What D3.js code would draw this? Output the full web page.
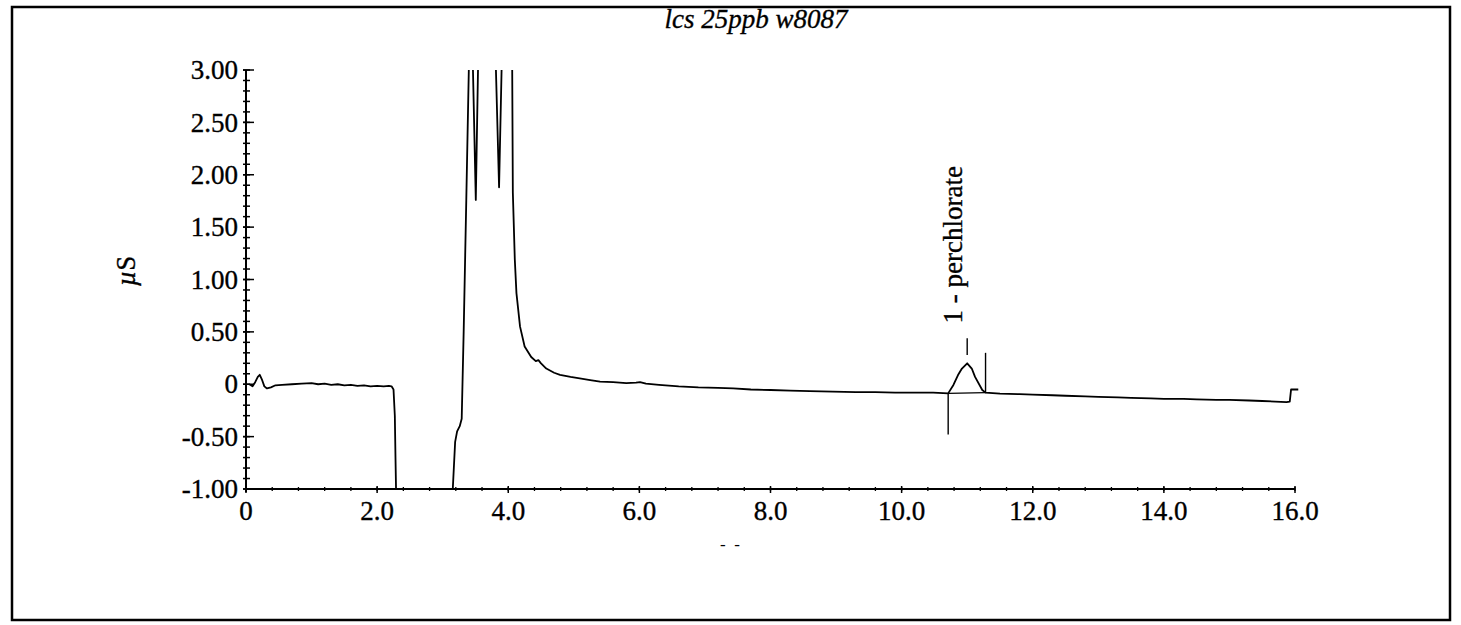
<!DOCTYPE html>
<html>
<head>
<meta charset="utf-8">
<script src="https://cdn.jsdelivr.net/npm/d3@7"></script>
<style>
html,body{margin:0;padding:0;background:#fff;}
svg{display:block;}
text{font-family:"Liberation Serif","Times New Roman",serif;fill:#000;stroke:#000;stroke-width:0.35px;}
</style>
</head>
<body>
<svg id="chart" width="1461" height="625"></svg>
<script>
// ---- data (time in min, signal in µS) ----
const title = "lcs 25ppb w8087";
const yLabel = "µS";
const xTickValues = [0, 2, 4, 6, 8, 10, 12, 14, 16];
const xTickLabels = ["0", "2.0", "4.0", "6.0", "8.0", "10.0", "12.0", "14.0", "16.0"];
const yTickValues = [3, 2.5, 2, 1.5, 1, 0.5, 0, -0.5, -1];
const yTickLabels = ["3.00", "2.50", "2.00", "1.50", "1.00", "0.50", "0", "-0.50", "-1.00"];

const times = [
  0.05, 0.10, 0.14, 0.18, 0.21, 0.24, 0.28, 0.32, 0.38, 0.45, 0.55, 0.70, 0.85, 1.00, 1.10, 1.20,
  1.30, 1.40, 1.50, 1.60, 1.70, 1.80, 1.90, 2.00, 2.10, 2.18, 2.22, 2.25, 2.27, 2.28, 2.29,
  3.15, 3.17, 3.19, 3.22, 3.26, 3.29, 3.32, 3.36, 3.40, 3.43, 3.46, 3.505, 3.54, 3.65, 3.80,
  3.81, 3.86, 3.90, 3.98, 4.06, 4.07, 4.10, 4.125, 4.18, 4.25, 4.35, 4.42, 4.46, 4.50, 4.58,
  4.70, 4.79, 4.95, 5.09, 5.25, 5.40, 5.60, 5.80, 5.95, 6.01, 6.10, 6.30, 6.60, 6.90, 7.20,
  7.43, 7.70, 8.00, 8.30, 8.60, 8.95, 9.30, 9.60, 9.90, 10.20, 10.48, 10.71, 10.79, 10.86,
  10.92, 11.00, 11.07, 11.12, 11.23, 11.28, 11.50, 11.80, 12.00, 12.30, 12.50, 12.80, 13.00,
  13.30, 13.50, 13.80, 14.00, 14.30, 14.50, 14.80, 15.00, 15.30, 15.50, 15.70, 15.87, 15.92,
  15.94, 16.05
];
const signal = [
  0.00, -0.02, 0.02, 0.07, 0.09, 0.05, -0.02, -0.04, -0.03, -0.01, -0.005, 0.00, 0.005, 0.01, 0.00, 0.005,
  -0.005, 0.00, -0.01, -0.005, -0.015, -0.01, -0.02, -0.015, -0.02, -0.015, -0.02, -0.05, -0.30, -0.70, -1.05,
  -1.05, -0.80, -0.55, -0.45, -0.40, -0.33, 0.50, 1.76, 3.05, 3.30, 3.05, 1.76, 3.05, 3.30, 3.30,
  3.05, 1.88, 3.05, 3.30, 3.05, 1.83, 1.19, 0.87, 0.55, 0.36, 0.26, 0.22, 0.23, 0.20, 0.15,
  0.11, 0.09, 0.07, 0.057, 0.04, 0.025, 0.02, 0.01, 0.015, 0.02, 0.005, -0.005, -0.02, -0.03, -0.035,
  -0.04, -0.05, -0.055, -0.06, -0.065, -0.07, -0.075, -0.075, -0.08, -0.08, -0.08, -0.087, -0.007, 0.088,
  0.15, 0.20, 0.15, 0.07, -0.055, -0.08, -0.09, -0.095, -0.10, -0.105, -0.11, -0.115, -0.12,
  -0.125, -0.13, -0.135, -0.14, -0.14, -0.145, -0.15, -0.15, -0.155, -0.16, -0.165, -0.17, -0.165,
  -0.05, -0.05
];

// peak integration annotation
const peakName = "1 - perchlorate";
const peakStart = [10.71, -0.087];
const peakEnd = [11.28, -0.08];
const peakApex = 11.0;
const startMarkerEnd = -0.48;
const endMarkerEnd = 0.30;
const labelTickRange = [0.28, 0.44];
const labelStart = 0.58;
const stray = ["-  -"];

// ---- layout ----
const svg = d3.select("#chart");
const x = d3.scaleLinear().domain([0, 16]).range([246, 1295]);
const y = d3.scaleLinear().domain([-1, 3]).range([489, 70]);

// frame
svg.append("rect").attr("x", 12).attr("y", 7).attr("width", 1438).attr("height", 613)
  .attr("fill", "none").attr("stroke", "#000").attr("stroke-width", 2.5);

// title
svg.append("text").attr("x", 756).attr("y", 28).attr("text-anchor", "middle")
  .style("font-style", "italic").style("font-size", "27px").text(title);

// y axis label
const yl = svg.append("text").attr("transform", "translate(135,271) rotate(-90)")
  .attr("text-anchor", "middle").style("font-size", "27px");
yl.append("tspan").style("font-style", "italic").text(yLabel.slice(0, 1));
yl.append("tspan").text(yLabel.slice(1));

// clip for trace
svg.append("clipPath").attr("id", "plotclip").append("rect")
  .attr("x", x(0)).attr("y", y(3)).attr("width", x(16.2) - x(0)).attr("height", y(-1) - y(3));

// y axis
const yAxis = svg.append("g");
yAxis.append("line").attr("x1", x(0)).attr("x2", x(0)).attr("y1", y(3)).attr("y2", y(-1) + 3)
  .attr("stroke", "#000").attr("stroke-width", 2);
const yMinor = d3.range(-10, 31).map(d => d / 10);
yAxis.selectAll(".ymin").data(yMinor).enter().append("line")
  .attr("x1", x(0) - 3).attr("x2", x(0) + 4)
  .attr("y1", d => y(d)).attr("y2", d => y(d))
  .attr("stroke", "#000").attr("stroke-width", 1.5);
yAxis.selectAll(".ymaj").data(yTickValues).enter().append("line")
  .attr("x1", x(0) - 3).attr("x2", x(0) + 8)
  .attr("y1", d => y(d)).attr("y2", d => y(d))
  .attr("stroke", "#000").attr("stroke-width", 1.5);
yAxis.selectAll(".ylab").data(yTickValues).enter().append("text")
  .attr("x", x(0) - 8).attr("y", d => y(d)).attr("dy", "0.34em")
  .attr("text-anchor", "end").style("font-size", "27px")
  .text((d, i) => yTickLabels[i]);

// x axis
const xAxis = svg.append("g");
xAxis.append("line").attr("x1", x(0)).attr("x2", x(16)).attr("y1", y(-1)).attr("y2", y(-1))
  .attr("stroke", "#000").attr("stroke-width", 2);
const xMinor = d3.range(0, 41).map(d => d * 0.4);
xAxis.selectAll(".xmin").data(xMinor).enter().append("line")
  .attr("x1", d => x(d)).attr("x2", d => x(d))
  .attr("y1", y(-1) - 2).attr("y2", y(-1) + 2)
  .attr("stroke", "#000").attr("stroke-width", 1.3);
xAxis.selectAll(".xmaj").data(xTickValues).enter().append("line")
  .attr("x1", d => x(d)).attr("x2", d => x(d))
  .attr("y1", y(-1) - 3).attr("y2", y(-1) + 4)
  .attr("stroke", "#000").attr("stroke-width", 1.5);
xAxis.selectAll(".xlab").data(xTickValues).enter().append("text")
  .attr("x", d => x(d)).attr("y", 520)
  .attr("text-anchor", "middle").style("font-size", "27px")
  .text((d, i) => xTickLabels[i]);

svg.append("text").attr("x", 730).attr("y", 550).attr("text-anchor", "middle")
  .style("font-size", "17px").style("stroke-width", "0").attr("fill", "#444")
  .attr("xml:space", "preserve").text(stray[0]);

// trace
const pts = times.map((t, i) => [t, signal[i]]);
const line = d3.line().x(d => x(d[0])).y(d => y(d[1]));
svg.append("path").datum(pts).attr("clip-path", "url(#plotclip)")
  .attr("d", line).attr("fill", "none").attr("stroke", "#000").attr("stroke-width", 1.8)
  .attr("stroke-linejoin", "round");

// peak annotation
const ann = svg.append("g").attr("stroke", "#000").attr("stroke-width", 1.4);
ann.append("line").attr("x1", x(peakStart[0])).attr("y1", y(peakStart[1]))
  .attr("x2", x(peakEnd[0])).attr("y2", y(peakEnd[1]));
ann.append("line").attr("x1", x(peakStart[0])).attr("x2", x(peakStart[0]))
  .attr("y1", y(peakStart[1])).attr("y2", y(startMarkerEnd));
ann.append("line").attr("x1", x(peakEnd[0])).attr("x2", x(peakEnd[0]))
  .attr("y1", y(peakEnd[1])).attr("y2", y(endMarkerEnd));
ann.append("line").attr("x1", x(peakApex)).attr("x2", x(peakApex))
  .attr("y1", y(labelTickRange[0])).attr("y2", y(labelTickRange[1]));
svg.append("text")
  .attr("transform", `translate(${x(peakApex) - 5},${y(labelStart)}) rotate(-90)`)
  .attr("text-anchor", "start").style("font-size", "27px").text(peakName);
</script>
</body>
</html>
